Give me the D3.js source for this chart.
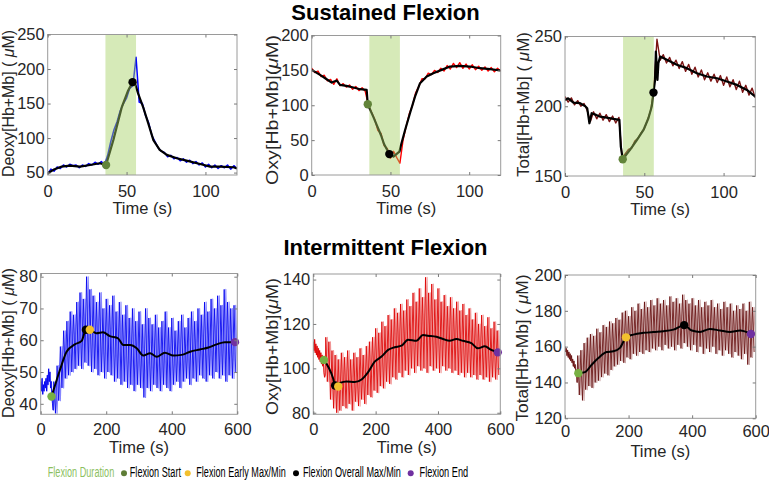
<!DOCTYPE html>
<html><head><meta charset="utf-8">
<script src="https://cdn.jsdelivr.net/npm/d3@7"></script>
<style>body{margin:0;background:#fff}svg{display:block}</style>
</head><body><svg id="c" width="769" height="480"></svg>
<script>
// ---------------- DATA ----------------
const titles = ["Sustained Flexion", "Intermittent Flexion"];
const yLabels = [["Deoxy[Hb+Mb] ( ", "μ", "M)"], ["Oxy[Hb+Mb](", "μ", "M)"], ["Total[Hb+Mb] ( ", "μ", "M)"]];
const xLabel = "Time (s)";
const legendLabels = ["Flexion Duration", "Flexion Start", "Flexion Early Max/Min", "Flexion Overall Max/Min", "Flexion End"];

const susTicksX = [0, 50, 100];
const intTicksX = [0, 200, 400, 600];
const deoxySusTicksY = [50, 100, 150, 200, 250];
const oxySusTicksY = [0, 50, 100, 150, 200];
const totalSusTicksY = [150, 200, 250];
const deoxyIntTicksY = [40, 50, 60, 70, 80];
const oxyIntTicksY = [80, 100, 120, 140];
const totalIntTicksY = [120, 140, 160, 180, 200];

const flexionBand = [36.6, 56];

// sustained raw traces, sampled every 2 s from 0 to 120 s
const deoxySusRaw = [48,55,52,58,56,61,58,62,60,61, 57,61,59,63,61,65,62,66,61,75,
  95,112,124,140,150,158,172,176,217,152, 150,133,122,104,95,86,81,79,73,75,
  70,72,67,70,65,68,63,66,61,64, 58,62,57,61,56,60,57,61,55,60, 56];
const oxySusRaw = [153,147,149,141,143,135,137,130,138,128, 131,126,129,123,127,121,125,120,100,90,
  80,64,60,42,38,24,34,25,17,50, 70,88,100,118,127,138,138,146,144,150,
  147,153,149,157,152,160,154,161,153,159, 152,158,151,156,150,155,149,154,148,153, 149];
const totalSusRaw = [207,203,206,201,204,200,202,197,189,196, 191,195,190,194,189,193,188,192,163,166,
  169,170,175,177,181,184,190,197,212,248, 233,237,231,235,229,233,227,232,225,230,
  223,228,221,226,219,224,218,223,217,222, 215,221,214,219,212,218,210,215,208,213, 206];

// sustained smoothed traces
const deoxySusT = [0,3.6,8.9,14,20.5,26.8,33,37,41.6,47,51,53.8,55.5,57.4,60.6,63.8,67,71,75.5,81.8,88,96.6,103,109,117.8,120];
const deoxySusV = [49,54,58.7,60,58.7,61,63.5,61,97,145,169,181,178,164,144,121,97,83,75.6,70.7,67.3,62.5,58.7,58.7,57.7,56];
const oxySusT = [0,5.3,9.5,12.7,15.9,18,22,26.5,30.7,34.9,35.6,39.2,44,46,49.3,51.9,55.7,57,59.3,62.4,65.6,68.8,73,77.2,82.5,87.8,94.2,100.5,106.9,113.2,120];
const oxySusV = [150.7,143.5,137.3,132.5,135.4,129.2,127.8,125.4,123,122,101.4,83,57,44,30,26.3,33.5,45.5,64.6,88.5,112.4,131.6,141.1,146,150.7,155.5,156.5,155.5,153.1,151.7,149.8];
const totalSusT = [0,2,5.3,9.5,12.6,14,15.4,16.8,19.6,22,26.3,30.5,34.3,35.2,36.4,41,45.3,49.5,52.6,54.7,55.8,56.8,57.3,58.3,58.9,60,64.2,70.5,76.8,83.2,89.5,95.8,102.1,108.4,114.7,120];
const totalSusV = [204.5,205.7,202.6,202.2,200.2,198.6,187.8,195,193.8,192.6,191.9,190.9,190.2,171,162,168.7,175.8,183,191.4,199.8,209.8,218.9,239.2,218.9,230.9,235.6,233.3,229.7,227.3,223.7,221.3,220.1,217.7,215.3,211.7,206.9];

// sustained markers: [time, value]
const deoxySusStart = [37, 61], deoxySusMax = [53.8, 181];
const oxySusStart = [35.6, 101.4], oxySusMin = [49.3, 30];
const totalSusStart = [36.4, 162], totalSusMax = [55.8, 209.8];

// intermittent raw: pre-flexion every 2 s (0-38 s), then cycle peaks (40+10k s) and troughs (45+10k s)
const deoxyIntPre = [47,44,48,43,46,44,47,45,48,44,49,46,51,47,50,45,47,42,40,38];
const deoxyIntHi = [47,52,58,63,66,69,68,72,75,73, 80,76,74,72,75,70,73,71,74,69, 72,68,71,67,70,66,69,65,70,67,
  65,68,64,66,69,64,67,63,66,68, 64,67,69,66,70,68,72,69,73,70, 74,71,76,72,70,71];
const deoxyIntLo = [37,41,45,48,49,50,51,52,51,53, 52,50,51,49,50,48,50,49,47,48, 46,47,45,46,44,46,45,42,45,44,
  46,45,44,46,45,44,46,47,45,47, 48,46,48,47,49,48,47,49,48,50, 48,49,47,49,48,50];
const oxyIntPre = [112,108,113,107,111,106,110,105,109,104,108,103,107,102,106,101,104,98,96,97];
const oxyIntHi = [114,112,108,106,104,107,105,108,104,107, 105,109,106,110,112,114,118,116,121,119,
  124,122,127,125,129,126,131,128,134,130, 136,132,141,134,138,131,136,130,133,128,
  132,127,130,126,129,124,127,122,125,120, 124,119,123,118,121,117];
const oxyIntLo = [94,86,82,80,81,83,82,84,81,85, 83,86,84,88,87,90,89,92,91,94, 93,96,95,98,96,99,97,100,98,101,
  99,100,98,101,99,100,98,101,99,100, 98,99,97,98,96,98,96,97,95,97, 95,96,94,96,95,97];
const totalIntPre = [160,157,159,155,158,154,157,153,156,152,155,151,153,149,152,148,150,146,147,140];
const totalIntHi = [155,158,162,165,167,166,170,168,172,171, 174,173,176,175,179,180,177,182,180,184,
  181,185,182,186,183,187,184,186,183,188, 185,187,184,189,186,184,187,183,186,182,
  185,183,186,182,184,181,185,182,184,180, 183,181,184,180,185,182];
const totalIntLo = [133,130,136,138,137,140,141,143,145,144, 147,149,150,152,151,154,153,156,155,157,
  156,158,157,159,158,160,158,161,159,160, 158,161,159,162,160,158,161,157,160,156,
  159,157,160,156,158,155,158,156,154,157, 155,153,156,150,154,157];

// intermittent smoothed traces
const deoxyIntT = [33,48.8,59,79,104,125,138,150,170,190,211,236,252,273,293,313,334,354,379,405,430,456,486,512,537,562,593];
const deoxyIntV = [42.3,47.5,50.7,56.4,58.7,59.8,63.3,63.3,62.2,62.5,61.3,60.6,58.5,58.5,57.5,55.2,55.9,54.8,56.1,55.2,55.4,56.4,57.1,57.7,58.7,59.4,59.4];
const oxyIntT = [34,64,70,85,107,133,155,176,197,219,240,261,283,304,331,352,368,395,416,438,459,480,507,528,550,571,592];
const oxyIntV = [103.8,95.3,92.3,93.4,94.1,93.8,95,98.3,103,105.3,108.3,109.5,110.2,112.9,112.4,115,114.7,114.2,113.2,112.4,113.2,112.4,111.4,109,109.9,108.3,107.2];
const totalIntT = [42,63,84,105,131,152,173,192,215,247,278,310,341,375,399,425,456,488,519,551,585];
const totalIntV = [145.2,145.8,149.9,153.6,157,157.4,159.3,165.2,166.7,167.7,168.2,168.6,169.5,172,169,168.2,169.9,169,168.2,169,167.1];

// intermittent markers: [time, value]
const deoxyIntMarks = {start: [33, 42.3], overall: [138, 63.3], early: [150, 63.3], end: [593, 59.4]};
const oxyIntMarks = {start: [34, 103.8], overall: [70, 92.3], early: [80, 91.8], end: [592, 107.2]};
const totalIntMarks = {start: [42, 145.2], early: [192, 165.2], overall: [375, 172], end: [585, 167.1]};

// ---------------- DRAWING ----------------
const FONT = '"Liberation Sans", Arial, Helvetica, sans-serif';
const TXT = '#262626';
const COL = {bandFill: 'rgb(165,209,99)', bandOp: 0.455, startTop: '#62843a', startBot: '#77b043',
  early: '#f2c02e', overall: '#000000', end: '#7030a0', legendGreen: '#8cbf5f'};
const svg = d3.select('#c');
const defs = svg.append('defs');

function zip(t, v) { return t.map((d, i) => [d, v[i]]); }
function sustainedPoints(vals) { const t = d3.range(0, 121, 2); return zip(t, vals); }
// shift: drawing offset (s) of the second, lighter copy of the trace
function intermittentPoints(pre, hi, lo, shift) {
  const pts = zip(d3.range(0, 40, 2).map(t => t + shift / 5), pre);
  hi.forEach((h, k) => { pts.push([40 + 10 * k + shift, h]); pts.push([45 + 10 * k + shift, lo[k]]); });
  return pts;
}

function panel(p, idx) {
  const [x0, x1, y0, y1] = p.box;
  const x = d3.scaleLinear().domain(p.xDomain).range([x0, x1]);
  const y = d3.scaleLinear().domain(p.yDomain).range([y1, y0]);
  const cid = 'clip' + idx;
  defs.append('clipPath').attr('id', cid).append('rect')
    .attr('x', x0).attr('y', y0).attr('width', x1 - x0).attr('height', y1 - y0);
  const g = svg.append('g');
  const plot = g.append('g').attr('clip-path', `url(#${cid})`);
  const line = d3.line().x(d => x(d[0])).y(d => y(d[1]));

  p.raw.forEach(r => plot.append('path').datum(r.points).attr('d', line)
    .attr('fill', 'none').attr('stroke', r.color).attr('stroke-width', r.width)
    .attr('stroke-opacity', r.opacity).attr('stroke-linejoin', 'round'));

  const sline = d3.line().x(d => x(d[0])).y(d => y(d[1])).curve(p.band ? d3.curveLinear : d3.curveMonotoneX);
  plot.append('path').datum(p.smooth).attr('d', sline).attr('fill', 'none')
    .attr('stroke', '#000').attr('stroke-width', p.band ? 2.2 : 2).attr('stroke-linejoin', 'round');

  if (p.band) {
    plot.append('rect').attr('x', x(p.band[0])).attr('width', x(p.band[1]) - x(p.band[0]))
      .attr('y', y0).attr('height', y1 - y0).attr('fill', COL.bandFill).attr('fill-opacity', COL.bandOp);
  }
  p.dots.forEach(d => g.append('circle').attr('cx', x(d.pt[0])).attr('cy', y(d.pt[1]))
    .attr('r', d.r).attr('fill', d.color));

  // box
  g.append('rect').attr('x', x0).attr('y', y0).attr('width', x1 - x0).attr('height', y1 - y0)
    .attr('fill', 'none').attr('stroke', '#9a9a9a').attr('stroke-width', 1);

  const styleAxis = a => {
    a.select('.domain').remove();
    a.selectAll('line').attr('stroke', '#7a7a7a');
    a.selectAll('text').attr('fill', TXT).style('font-family', FONT).style('font-size', '16.5px');
  };
  g.append('g').attr('transform', `translate(0,${y1})`)
    .call(d3.axisBottom(x).tickValues(p.xTicks).tickSizeInner(-3).tickSizeOuter(0).tickPadding(p.xPad))
    .call(styleAxis);
  g.append('g').attr('transform', `translate(0,${y0})`)
    .call(d3.axisTop(x).tickValues(p.xTicks).tickSizeInner(-3).tickSizeOuter(0).tickFormat(''))
    .call(styleAxis);
  g.append('g').attr('transform', `translate(${x0},0)`)
    .call(d3.axisLeft(y).tickValues(p.yTicks).tickSizeInner(-3).tickSizeOuter(0).tickPadding(3))
    .call(styleAxis);
  g.append('g').attr('transform', `translate(${x1},0)`)
    .call(d3.axisRight(y).tickValues(p.yTicks).tickSizeInner(-3).tickSizeOuter(0).tickFormat(''))
    .call(styleAxis);

  g.append('text').attr('x', (x0 + x1) / 2).attr('y', y1 + 38.5).attr('text-anchor', 'middle')
    .attr('fill', TXT).style('font-family', FONT).style('font-size', '16.5px').text(xLabel);

  const yl = g.append('text').attr('transform', `translate(${p.yl.x},${p.yl.y}) rotate(-90)`)
    .attr('text-anchor', 'middle').attr('dy', '0.35em').attr('fill', TXT)
    .style('font-family', FONT).style('font-size', '16px')
    .attr('textLength', p.yl.len).attr('lengthAdjust', 'spacingAndGlyphs');
  yl.append('tspan').text(p.label[0]);
  yl.append('tspan').style('font-style', 'italic').text(p.label[1]);
  yl.append('tspan').text(p.label[2]);
}

function intRaw(pre, hi, lo, light, dark) {
  return [{points: intermittentPoints(pre, hi, lo, 5), color: light, width: 1.1, opacity: 0.9},
          {points: intermittentPoints(pre, hi, lo, 0), color: dark, width: 0.9, opacity: 0.95}];
}

const R = 4.2;
const panels = [
  {box: [47.7, 237, 34.5, 175], xDomain: [0, 120], yDomain: [46.5, 250], xTicks: susTicksX, yTicks: deoxySusTicksY, xPad: 9.8,
   raw: [{points: sustainedPoints(deoxySusRaw), color: '#0000ff', width: 1.5, opacity: 1}],
   smooth: zip(deoxySusT, deoxySusV), band: flexionBand,
   dots: [{pt: deoxySusStart, color: COL.startTop, r: R}, {pt: deoxySusMax, color: COL.overall, r: R}],
   label: yLabels[0], yl: {x: 8.5, y: 103.5, len: 147}},
  {box: [311.7, 500.7, 35.5, 175], xDomain: [0, 120], yDomain: [0, 200], xTicks: susTicksX, yTicks: oxySusTicksY, xPad: 9.8,
   raw: [{points: sustainedPoints(oxySusRaw), color: '#ff0000', width: 1.4, opacity: 1}],
   smooth: zip(oxySusT, oxySusV), band: flexionBand,
   dots: [{pt: oxySusStart, color: COL.startTop, r: R}, {pt: oxySusMin, color: COL.overall, r: R}],
   label: yLabels[1], yl: {x: 272, y: 110, len: 150}},
  {box: [565, 755.3, 36.5, 176], xDomain: [0, 120], yDomain: [150, 250], xTicks: susTicksX, yTicks: totalSusTicksY, xPad: 9.8,
   raw: [{points: sustainedPoints(totalSusRaw), color: '#7a1212', width: 1.4, opacity: 1}],
   smooth: zip(totalSusT, totalSusV), band: flexionBand,
   dots: [{pt: totalSusStart, color: COL.startTop, r: R}, {pt: totalSusMax, color: COL.overall, r: R}],
   label: yLabels[2], yl: {x: 523, y: 104.5, len: 145}},
  {box: [40.7, 237.3, 273.5, 414.3], xDomain: [0, 600], yDomain: [36.7, 81], xTicks: intTicksX, yTicks: deoxyIntTicksY, xPad: 9,
   raw: intRaw(deoxyIntPre, deoxyIntHi, deoxyIntLo, '#7a7aff', '#0000ee'),
   smooth: zip(deoxyIntT, deoxyIntV), band: null,
   dots: [{pt: deoxyIntMarks.start, color: COL.startBot, r: R}, {pt: deoxyIntMarks.overall, color: COL.overall, r: R},
          {pt: deoxyIntMarks.early, color: COL.early, r: R}, {pt: deoxyIntMarks.end, color: COL.end, r: R}],
   label: yLabels[0], yl: {x: 8.5, y: 343, len: 150}},
  {box: [313.3, 500.3, 274, 414.3], xDomain: [0, 600], yDomain: [79.3, 142.5], xTicks: intTicksX, yTicks: oxyIntTicksY, xPad: 9,
   raw: intRaw(oxyIntPre, oxyIntHi, oxyIntLo, '#f08a8a', '#dd0000'),
   smooth: zip(oxyIntT, oxyIntV), band: null,
   dots: [{pt: oxyIntMarks.start, color: COL.startBot, r: R}, {pt: oxyIntMarks.overall, color: COL.overall, r: R},
          {pt: oxyIntMarks.early, color: COL.early, r: R}, {pt: oxyIntMarks.end, color: COL.end, r: R}],
   label: yLabels[1], yl: {x: 272.5, y: 346.5, len: 137}},
  {box: [565, 755.7, 275, 418.3], xDomain: [0, 600], yDomain: [120, 200], xTicks: intTicksX, yTicks: totalIntTicksY, xPad: 7,
   raw: intRaw(totalIntPre, totalIntHi, totalIntLo, '#c49a9a', '#650d0d'),
   smooth: zip(totalIntT, totalIntV), band: null,
   dots: [{pt: totalIntMarks.start, color: COL.startBot, r: R}, {pt: totalIntMarks.early, color: COL.early, r: R},
          {pt: totalIntMarks.overall, color: COL.overall, r: R}, {pt: totalIntMarks.end, color: COL.end, r: R}],
   label: yLabels[2], yl: {x: 522.5, y: 348, len: 147}}
];
panels.forEach(panel);

// titles
svg.append('text').attr('x', 385.5).attr('y', 19.5).attr('text-anchor', 'middle').attr('fill', '#000')
  .style('font-family', FONT).style('font-size', '22px').style('font-weight', 'bold').text(titles[0]);
svg.append('text').attr('x', 385.5).attr('y', 254.5).attr('text-anchor', 'middle').attr('fill', '#000')
  .style('font-family', FONT).style('font-size', '22px').style('font-weight', 'bold').text(titles[1]);

// legend
const legendItems = [
  {label: legendLabels[0], tx: 47.7, len: 66.6, color: COL.legendGreen, dot: null},
  {label: legendLabels[1], tx: 129.8, len: 51.2, color: '#000', dot: {x: 124, c: '#5e7d36'}},
  {label: legendLabels[2], tx: 196.3, len: 89.5, color: '#000', dot: {x: 187.7, c: COL.early}},
  {label: legendLabels[3], tx: 303, len: 98, color: '#000', dot: {x: 296, c: '#000'}},
  {label: legendLabels[4], tx: 419.5, len: 48.8, color: '#000', dot: {x: 410.7, c: COL.end}}
];
const lg = svg.append('g');
legendItems.forEach(it => {
  if (it.dot) lg.append('circle').attr('cx', it.dot.x).attr('cy', 473.3).attr('r', 3).attr('fill', it.dot.c);
  const t = lg.append('text').attr('x', 0).attr('y', 0).attr('fill', it.color)
    .style('font-family', FONT).style('font-size', '14.5px').text(it.label);
  const w = t.node().getComputedTextLength();
  t.attr('transform', `translate(${it.tx},476.8) scale(${it.len / w},1)`);
});
</script></body></html>
